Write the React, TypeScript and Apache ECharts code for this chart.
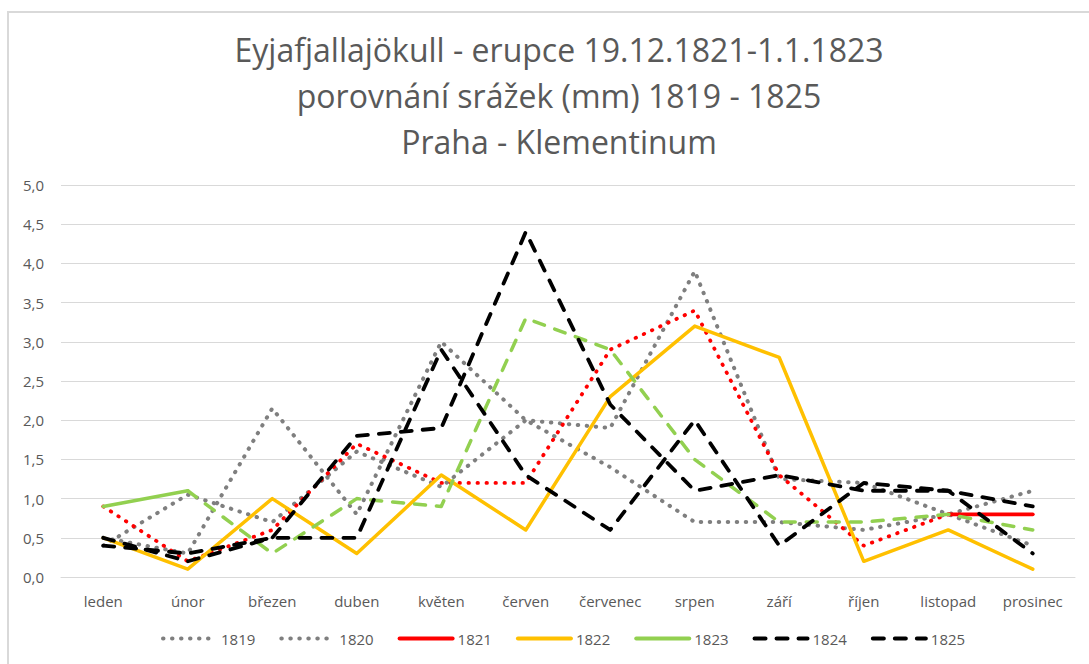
import React, { useEffect, useRef } from "react";
import * as echarts from "echarts";

const months = ["leden", "únor", "březen", "duben", "květen", "červen", "červenec", "srpen", "září", "říjen", "listopad", "prosinec"];
const y1819 = [0.5, 0.3, 2.15, 0.8, 3.0, 2.0, 1.4, 0.7, 0.7, 0.6, 0.8, 1.1];
const y1820 = [0.4, 1.05, 0.7, 1.6, 1.15, 2.0, 1.9, 3.9, 1.25, 1.2, 0.8, 0.4];
const y1821 = [0.9, 0.2, 0.6, 1.7, 1.2, 1.2, 2.9, 3.4, 1.3, 0.4, 0.8, 0.8];
const y1822 = [0.5, 0.1, 1.0, 0.3, 1.3, 0.6, 2.3, 3.2, 2.8, 0.2, 0.6, 0.1];
const y1823 = [0.9, 1.1, 0.3, 1.0, 0.9, 3.3, 2.9, 1.5, 0.7, 0.7, 0.8, 0.6];
const y1824 = [0.5, 0.2, 0.5, 1.8, 1.9, 4.4, 2.2, 1.1, 1.3, 1.1, 1.1, 0.9];
const y1825 = [0.4, 0.3, 0.5, 0.5, 2.9, 1.3, 0.6, 2.0, 0.4, 1.2, 1.1, 0.3];
const titleLines = ["Eyjafjallajökull - erupce 19.12.1821-1.1.1823", "porovnání srážek (mm) 1819 - 1825", "Praha - Klementinum"];

const GRAY = "#7f7f7f";
const RED = "#ff0000";
const ORANGE = "#ffc000";
const GREEN = "#92d050";
const BLACK = "#000000";
const DOT: number[] = [0.5, 8.5];
const DASH: number[] = [11, 11];
const TXT = "#595959";
const FONT = "'Open Sans', sans-serif";

function seg(arr: number[], from: number, to: number) {
  return arr.map((v, i) => (i >= from && i <= to ? v : null));
}

function line(name: string, data: (number | null)[], color: string, type: any, width: number, z: number) {
  return {
    name,
    type: "line",
    data,
    symbol: "none",
    connectNulls: false,
    z,
    lineStyle: { color, width, type, cap: "round", join: "round" },
    itemStyle: { color },
    emphasis: { disabled: true },
  };
}

const hidden = { color: "rgba(0,0,0,0)", opacity: 0, borderWidth: 0 };

function legendItem(name: string, color: string, type: any) {
  return { name, itemStyle: hidden, lineStyle: { color, width: 4, type, cap: "round" } };
}

export default function App() {
  const ref = useRef<HTMLDivElement>(null);
  useEffect(() => {
    if (!ref.current) return;
    const chart = echarts.init(ref.current, null, { renderer: "svg" });
    chart.setOption({
      animation: false,
      textStyle: { fontFamily: FONT },
      title: {
        text: titleLines.join("\n"),
        left: 554,
        top: 21,
        textAlign: "center",
        textStyle: { fontFamily: FONT, fontSize: 32, fontWeight: "normal", color: TXT, lineHeight: 46 },
      },
      graphic: [
        {
          type: "rect",
          shape: { x: 8, y: 12, width: 1200, height: 800 },
          style: { fill: "none", stroke: "#d9d9d9", lineWidth: 2 },
          silent: true,
        },
      ],
      legend: {
        left: 156,
        top: 626,
        itemWidth: 53,
        itemHeight: 14,
        itemGap: 24,
        textStyle: { color: TXT, fontSize: 15, fontFamily: FONT },
        data: [
          legendItem("1819", GRAY, DOT),
          legendItem("1820", GRAY, DOT),
          legendItem("1821", RED, "solid"),
          legendItem("1822", ORANGE, "solid"),
          legendItem("1823", GREEN, "solid"),
          legendItem("1824", BLACK, DASH),
          legendItem("1825", BLACK, DASH),
        ],
      },
      grid: { left: 61, right: 14, top: 185, bottom: 87, containLabel: false },
      xAxis: {
        type: "category",
        data: months,
        boundaryGap: true,
        axisLine: { show: true, lineStyle: { color: "#d9d9d9", width: 1 } },
        axisTick: { show: false },
        axisLabel: { color: TXT, fontSize: 15, fontFamily: FONT, margin: 16 },
      },
      yAxis: {
        type: "value",
        min: 0,
        max: 5,
        interval: 0.5,
        axisLine: { show: false },
        axisTick: { show: false },
        axisLabel: {
          color: TXT,
          fontSize: 15,
          fontFamily: FONT,
          margin: 17,
          formatter: (v: number) => v.toFixed(1).replace(".", ","),
        },
        splitLine: { lineStyle: { color: "#d9d9d9", width: 1 } },
      },
      series: [
        line("1819", y1819, GRAY, DOT, 4, 2),
        line("1820", y1820, GRAY, DOT, 4, 3),
        line("1821", seg(y1821, 0, 10), RED, DOT, 3.8, 4),
        line("1821", seg(y1821, 10, 11), RED, "solid", 3.8, 4),
        line("1822", y1822, ORANGE, "solid", 3.5, 5),
        line("1823", seg(y1823, 0, 1), GREEN, "solid", 3.5, 6),
        line("1823", seg(y1823, 1, 11), GREEN, DASH, 3.5, 6),
        line("1824", y1824, BLACK, DASH, 3.8, 7),
        line("1825", y1825, BLACK, DASH, 3.8, 8),
      ],
    });
    return () => chart.dispose();
  }, []);
  return (
    <div
      ref={ref}
      style={{ position: "absolute", left: 0, top: 0, width: 1089, height: 664, background: "#fff" }}
    />
  );
}
